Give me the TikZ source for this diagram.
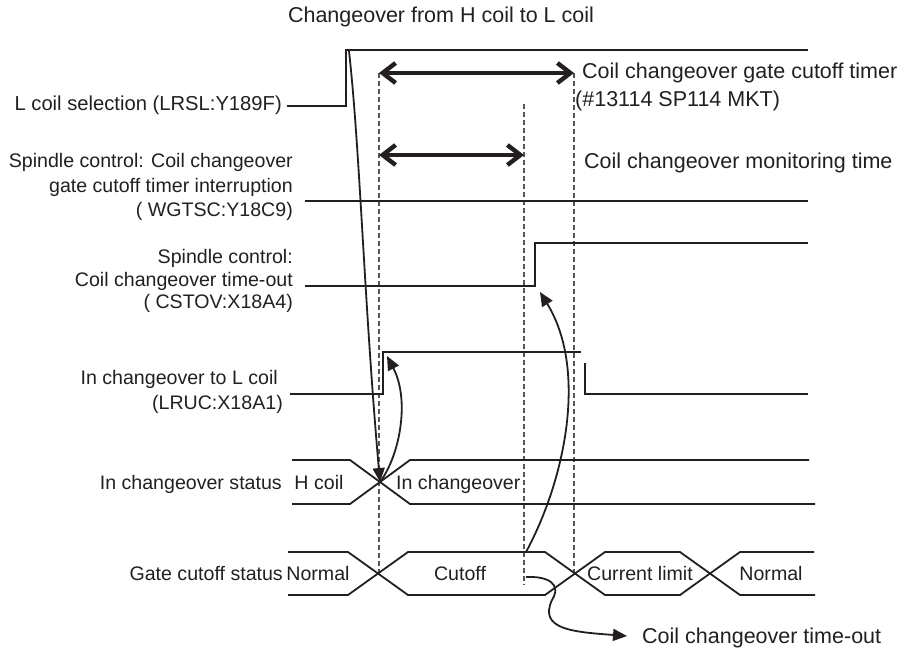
\documentclass[tikz,border=0pt]{standalone}
\usepackage{fontspec}
\setmainfont{Liberation Sans}
\usetikzlibrary{arrows.meta, positioning}
\definecolor{ink}{RGB}{35,31,32}
\definecolor{guidegray}{RGB}{85,85,85}
\newcommand{\lblfont}{\fontsize{19.6}{24.5}\selectfont}
\newcommand{\notefont}{\fontsize{21.5}{28}\selectfont}

\begin{document}
\begin{tikzpicture}[x=1pt, y=-1pt,
    sig/.style={draw=ink, line width=1.8pt},
    guide/.style={draw=guidegray, line width=1.2pt,
                dash pattern=on 5pt off 3pt},
    span/.style={{Straight Barb[length=13pt,width=20pt]}-{Straight Barb[length=13pt,width=20pt]},
                line width=4.4pt, draw=ink},
    cause/.style={-{Triangle[length=14pt,width=12pt]},
                line width=1.8pt, draw=ink},
    lbl/.style={inner sep=0pt, text=ink, font=\lblfont,
                align=right, anchor=east},
    note/.style={inner sep=0pt, text=ink, font=\notefont,
                anchor=mid west},
    state/.style={inner sep=0pt, text=ink, font=\lblfont,
                anchor=mid},
  ]
    \useasboundingbox (0,0) rectangle (908,653);

    % Title
    \node[note, anchor=mid] (title) at (441,20) {Changeover from H coil to L coil};

    % Signal names
    \node[lbl, font=\fontsize{20.2}{24.5}\selectfont] (lrslLbl) at (282,105)
      {L coil selection (LRSL:Y189F)};
    \node[lbl] (wgtscLbl) at (293,187) {Spindle control: Coil changeover\\
      gate cutoff timer interruption\\( WGTSC:Y18C9)};
    \node[lbl, font=\fontsize{19.6}{22.5}\selectfont] (cstovLbl) at (293,281)
      {Spindle control:\\Coil changeover time-out\hspace*{5pt}\\( CSTOV:X18A4)};
    \node[lbl] (lrucLbl) at (283,392) {In changeover to L coil\hspace*{5pt}\\(LRUC:X18A1)};
    \node[lbl] (chgLbl) at (282,484) {In changeover status};
    \node[lbl] (gateLbl) at (283,573) {Gate cutoff status};

    % Timers
    \node[note] (gateNote) at (582,76) {Coil changeover gate cutoff timer};
    \node[note] (parNote) at (575,104) {(\#13114 SP114 MKT)};
    \node[note] (monNote) at (584,166) {Coil changeover monitoring time};

    % Guide lines
    \draw[guide] (379,73) -- (379,573);
    \draw[guide] (524,104) -- (524,585);
    \draw[guide] (574,73) -- (574,573);
    \draw[span] (379,73) -- (574,73);
    \draw[span] (379,155) -- (524,155);

    % Waveforms
    \draw[sig] (287,106) -- (346,106) -- (346,50) -- (808,50);
    \draw[sig] (305,201) -- (808,201);
    \draw[sig] (305,286) -- (535,286) -- (535,243) -- (808,243);
    \draw[sig] (290,394) -- (383,394) -- (383,352) -- (581,352);
    \draw[sig] (585,363) -- (585,394) -- (808,394);

    % In changeover status bus
    \draw[sig] (292,460) -- (350,460) -- (410,504) -- (815,504);
    \draw[sig] (292,504) -- (350,504) -- (410,460) -- (809,460);
    \node[state] (hcoil) at (319,487) {H coil};
    \node[state, anchor=mid west] (inchg) at (396,487) {In changeover};

    % Gate cutoff status bus
    \draw[sig] (288,552) -- (348,552) -- (408,595) -- (545,595) -- (605,552)
      -- (680,552) -- (740,595) -- (815,595);
    \draw[sig] (288,595) -- (348,595) -- (408,552) -- (545,552) -- (605,595)
      -- (680,595) -- (740,552) -- (814,552);
    \node[state] (norm1) at (318,578) {Normal};
    \node[state] (cutoff) at (460,578) {Cutoff};
    \node[state] (curlim) at (640,578) {Current limit};
    \node[state] (norm2) at (771,578) {Normal};

    % Cause and effect
    \coordinate (lrslTop) at (349,51);
    \coordinate (chgX) at (380,482);
    \coordinate (lrucRise) at (387,356);
    \coordinate (cutStart) at (526,552);
    \coordinate (cstovRise) at (540,292);
    \coordinate (toStart) at (526,577);
    \coordinate (toBend) at (552,600);
    \node[note] (toNote) at (642,641) {Coil changeover time-out};

    \draw[cause] (lrslTop) .. controls (360,150) and (364,300) .. (chgX);
    \draw[cause] (chgX) .. controls (400,455) and (410,400) .. (lrucRise);
    \draw[cause] (cutStart) .. controls (565,480) and (588,370) .. (cstovRise);
    \draw[cause] (toStart) .. controls (548,576) and (562,584) .. (toBend)
      .. controls (538,630) and (575,632) .. (627,636);
  \end{tikzpicture}
\end{document}
